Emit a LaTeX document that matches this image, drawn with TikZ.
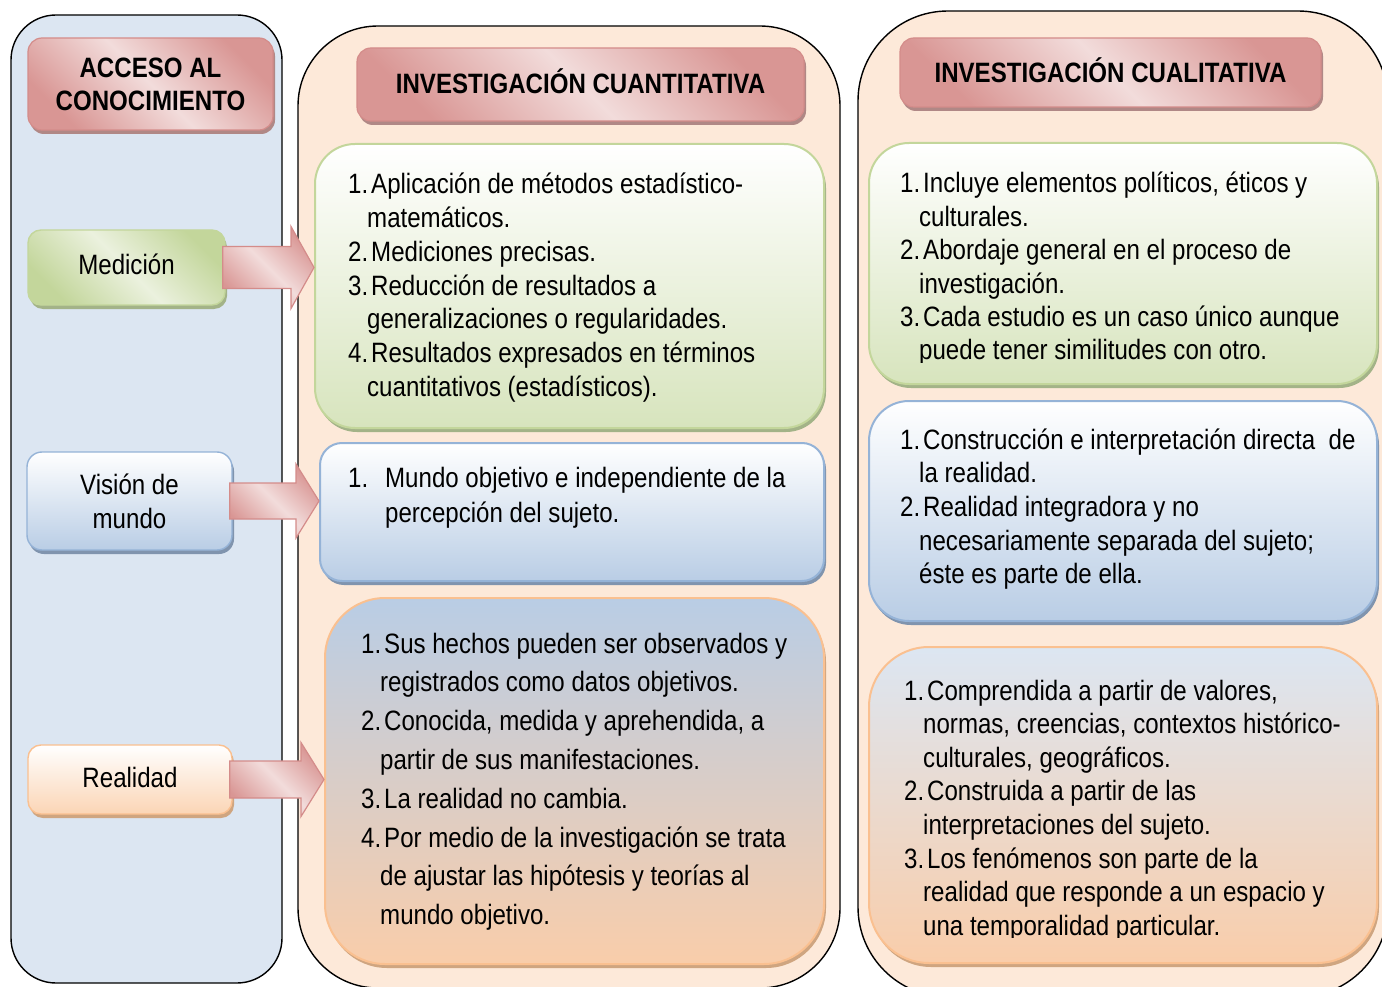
\documentclass[tikz,border=0pt]{standalone}
\usepackage{fontspec}
\setmainfont{Liberation Sans}[FakeStretch=0.86]
\usetikzlibrary{calc,shadows}
\definecolor{panelblue}{HTML}{DCE6F2}
\definecolor{panelpeach}{HTML}{FDE9D9}
\definecolor{pdark}{HTML}{D99694}
\definecolor{plight}{HTML}{F2DCDB}
\definecolor{pborder}{HTML}{D48C8A}
\definecolor{hshadow}{HTML}{B08886}
\definecolor{gborder}{HTML}{C3D69B}
\definecolor{gfill}{HTML}{D7E4BD}
\definecolor{glight}{HTML}{EBF1DE}
\definecolor{gshadow}{HTML}{A3B388}
\definecolor{bborder}{HTML}{95B3D7}
\definecolor{bfill}{HTML}{B9CDE5}
\definecolor{bshadow}{HTML}{8094AE}
\definecolor{oborder}{HTML}{FAC090}
\definecolor{ofill}{HTML}{F9CDAA}
\definecolor{olight}{HTML}{FBD5B5}
\definecolor{oshadow}{HTML}{CFA580}
\newcommand\li[1]{\makebox[23pt][l]{#1}}
\newcommand\ci{\hspace*{19pt}}
\newcommand\blockarrow[4]{%
  \draw[barrow] let \p1=(#1.east), \p2=(#2.west) in
    (\x1-3pt,\y1+#3) -- (\x2-23pt,\y1+#3) -- (\x2-23pt,\y1+#4) -- (\x2,\y1)
    -- (\x2-23pt,\y1-#4) -- (\x2-23pt,\y1-#3) -- (\x1-3pt,\y1-#3) -- cycle;}
\begin{document}
\begin{tikzpicture}[x=1pt,y=-1pt,
  panelL/.style={draw=black, line width=1.4pt, fill=panelblue, rounded corners=45pt, inner sep=0pt},
  panelP/.style={draw=black, line width=1.4pt, fill=panelpeach, rounded corners=#1, inner sep=0pt},
  hdr/.style={draw=pborder, line width=1.2pt, rounded corners=14pt,
    top color=pdark, bottom color=pdark, middle color=plight, shading angle=135,
    drop shadow={shadow xshift=2pt, shadow yshift=-4pt, fill=hshadow, opacity=1},
    font=\fontsize{28pt}{33pt}\selectfont\bfseries, align=center, inner sep=0pt},
  lblG/.style={draw=gborder, line width=1.4pt, rounded corners=13pt,
    top color=gborder, bottom color=gborder, middle color=glight, shading angle=135,
    drop shadow={shadow xshift=2pt, shadow yshift=-4pt, fill=gshadow, opacity=1},
    font=\fontsize{28pt}{34pt}\selectfont, align=center, inner sep=0pt},
  lblB/.style={draw=bborder, line width=1.4pt, rounded corners=15pt,
    top color=white, bottom color=bfill,
    drop shadow={shadow xshift=2pt, shadow yshift=-4pt, fill=bshadow, opacity=1},
    font=\fontsize{28pt}{34pt}\selectfont, align=center, inner sep=0pt},
  lblO/.style={draw=oborder, line width=1.4pt, rounded corners=13pt,
    top color=white, bottom color=olight,
    drop shadow={shadow xshift=2pt, shadow yshift=-4pt, fill=oshadow, opacity=1},
    font=\fontsize{28pt}{34pt}\selectfont, align=center, inner sep=0pt},
  gbox/.style={draw=gborder, line width=2pt, rounded corners=#1,
    top color=white, bottom color=gfill,
    drop shadow={shadow xshift=2pt, shadow yshift=-4pt, fill=gshadow, opacity=1}, inner sep=0pt},
  bbox/.style={draw=bborder, line width=2pt, rounded corners=#1,
    top color=white, bottom color=bfill,
    drop shadow={shadow xshift=2pt, shadow yshift=-4pt, fill=bshadow, opacity=1}, inner sep=0pt},
  obox/.style={draw=oborder, line width=2pt, rounded corners=60pt,
    top color=#1, bottom color=ofill,
    drop shadow={shadow xshift=2pt, shadow yshift=-4pt, fill=oshadow, opacity=1}, inner sep=0pt},
  barrow/.style={draw=pborder, line width=1.2pt,
    top color=pdark, bottom color=pdark, middle color=plight, shading angle=135},
  txt/.style={inner sep=0pt, anchor=base west}
]
\useasboundingbox (0,0) rectangle (1382,987);
\clip (0,0) rectangle (1382,987);
% panels
\node[panelL, minimum width=271pt, minimum height=968pt] (pL) at (146.5,499) {};
\node[panelP=80pt, minimum width=542pt, minimum height=962pt] (pM) at (569,507) {};
\node[panelP=90pt, minimum width=530pt, minimum height=986pt] (pR) at (1123,504) {};
% headers
\node[hdr, minimum width=245pt, minimum height=92pt] (hA) at (150.5,84) {ACCESO AL\\CONOCIMIENTO};
\node[hdr, minimum width=447pt, minimum height=73pt] (hC) at (580.5,84.5) {\raisebox{6pt}{INVESTIGACIÓN CUANTITATIVA}};
\node[hdr, minimum width=421pt, minimum height=69pt] (hQ) at (1110.5,72.5) {\raisebox{5pt}{INVESTIGACIÓN CUALITATIVA}};
% left labels
\node[lblG, minimum width=197pt, minimum height=75pt] (med) at (126.5,267.5) {\raisebox{7pt}{Medición}};
\node[lblB, minimum width=205pt, minimum height=98pt] (vis) at (129.5,501) {Visión de\\mundo};
\node[lblO, minimum width=204pt, minimum height=69pt] (rea) at (130,779.5) {\raisebox{4pt}{Realidad}};
% content boxes
\node[gbox=40pt, minimum width=509pt, minimum height=284pt] (mg) at (569.5,286) {};
\node[bbox=22pt, minimum width=504pt, minimum height=138pt] (mb) at (572,512) {};
\node[obox=bfill, minimum width=499pt, minimum height=366pt] (mo) at (574.5,781) {};
\node[gbox=40pt, minimum width=508pt, minimum height=241pt] (rg) at (1123,263.5) {};
\node[bbox=40pt, minimum width=508pt, minimum height=220pt] (rb) at (1123,511) {};
\node[obox=panelblue, minimum width=508pt, minimum height=316pt] (ro) at (1123,805) {};
% texts
\node[txt] (tmg) at (348,194) {\parbox[t]{500pt}{\fontsize{28pt}{33.7pt}\selectfont
\li{1.}Aplicación de métodos estadístico-\\
\ci matemáticos.\\
\li{2.}Mediciones precisas.\\
\li{3.}Reducción de resultados a\\
\ci generalizaciones o regularidades.\\
\li{4.}Resultados expresados en términos\\
\ci cuantitativos (estadísticos).}};
\node[txt] (tmb) at (348,487) {\parbox[t]{500pt}{\fontsize{28pt}{35pt}\selectfont
\makebox[37pt][l]{1.}Mundo objetivo e independiente de la\\
\hspace*{37pt}percepción del sujeto.}};
\node[txt] (tmo) at (361,653) {\parbox[t]{500pt}{\fontsize{28pt}{38.8pt}\selectfont
\li{1.}Sus hechos pueden ser observados y\\
\ci registrados como datos objetivos.\\
\li{2.}Conocida, medida y aprehendida, a\\
\ci partir de sus manifestaciones.\\
\li{3.}La realidad no cambia.\\
\li{4.}Por medio de la investigación se trata\\
\ci de ajustar las hipótesis y teorías al\\
\ci mundo objetivo.}};
\begin{scope}
\clip (860,140) rectangle (1380,362);
\node[txt] (trg) at (900,193) {\parbox[t]{500pt}{\fontsize{28pt}{33.4pt}\selectfont
\li{1.}Incluye elementos políticos, éticos y\\
\ci culturales.\\
\li{2.}Abordaje general en el proceso de\\
\ci investigación.\\
\li{3.}Cada estudio es un caso único aunque\\
\ci puede tener similitudes con otro.}};
\end{scope}
\node[txt] (trb) at (900,449) {\parbox[t]{500pt}{\fontsize{28pt}{33.7pt}\selectfont
\li{1.}Construcción e interpretación directa\ \ de\\
\ci la realidad.\\
\li{2.}Realidad integradora y no\\
\ci necesariamente separada del sujeto;\\
\ci éste es parte de ella.}};
\begin{scope}
\clip (860,640) rectangle (1380,937);
\node[txt] (tro) at (904,700) {\parbox[t]{500pt}{\fontsize{28pt}{33.6pt}\selectfont
\li{1.}Comprendida a partir de valores,\\
\ci normas, creencias, contextos histórico-\\
\ci culturales, geográficos.\\
\li{2.}Construida a partir de las\\
\ci interpretaciones del sujeto.\\
\li{3.}Los fenómenos son parte de la\\
\ci realidad que responde a un espacio y\\
\ci una temporalidad particular.}};
\end{scope}
% block arrows
\blockarrow{med}{mg}{21pt}{41pt}
\blockarrow{vis}{mb}{18pt}{37pt}
\blockarrow{rea}{mo}{18.5pt}{37pt}
\end{tikzpicture}
\end{document}
